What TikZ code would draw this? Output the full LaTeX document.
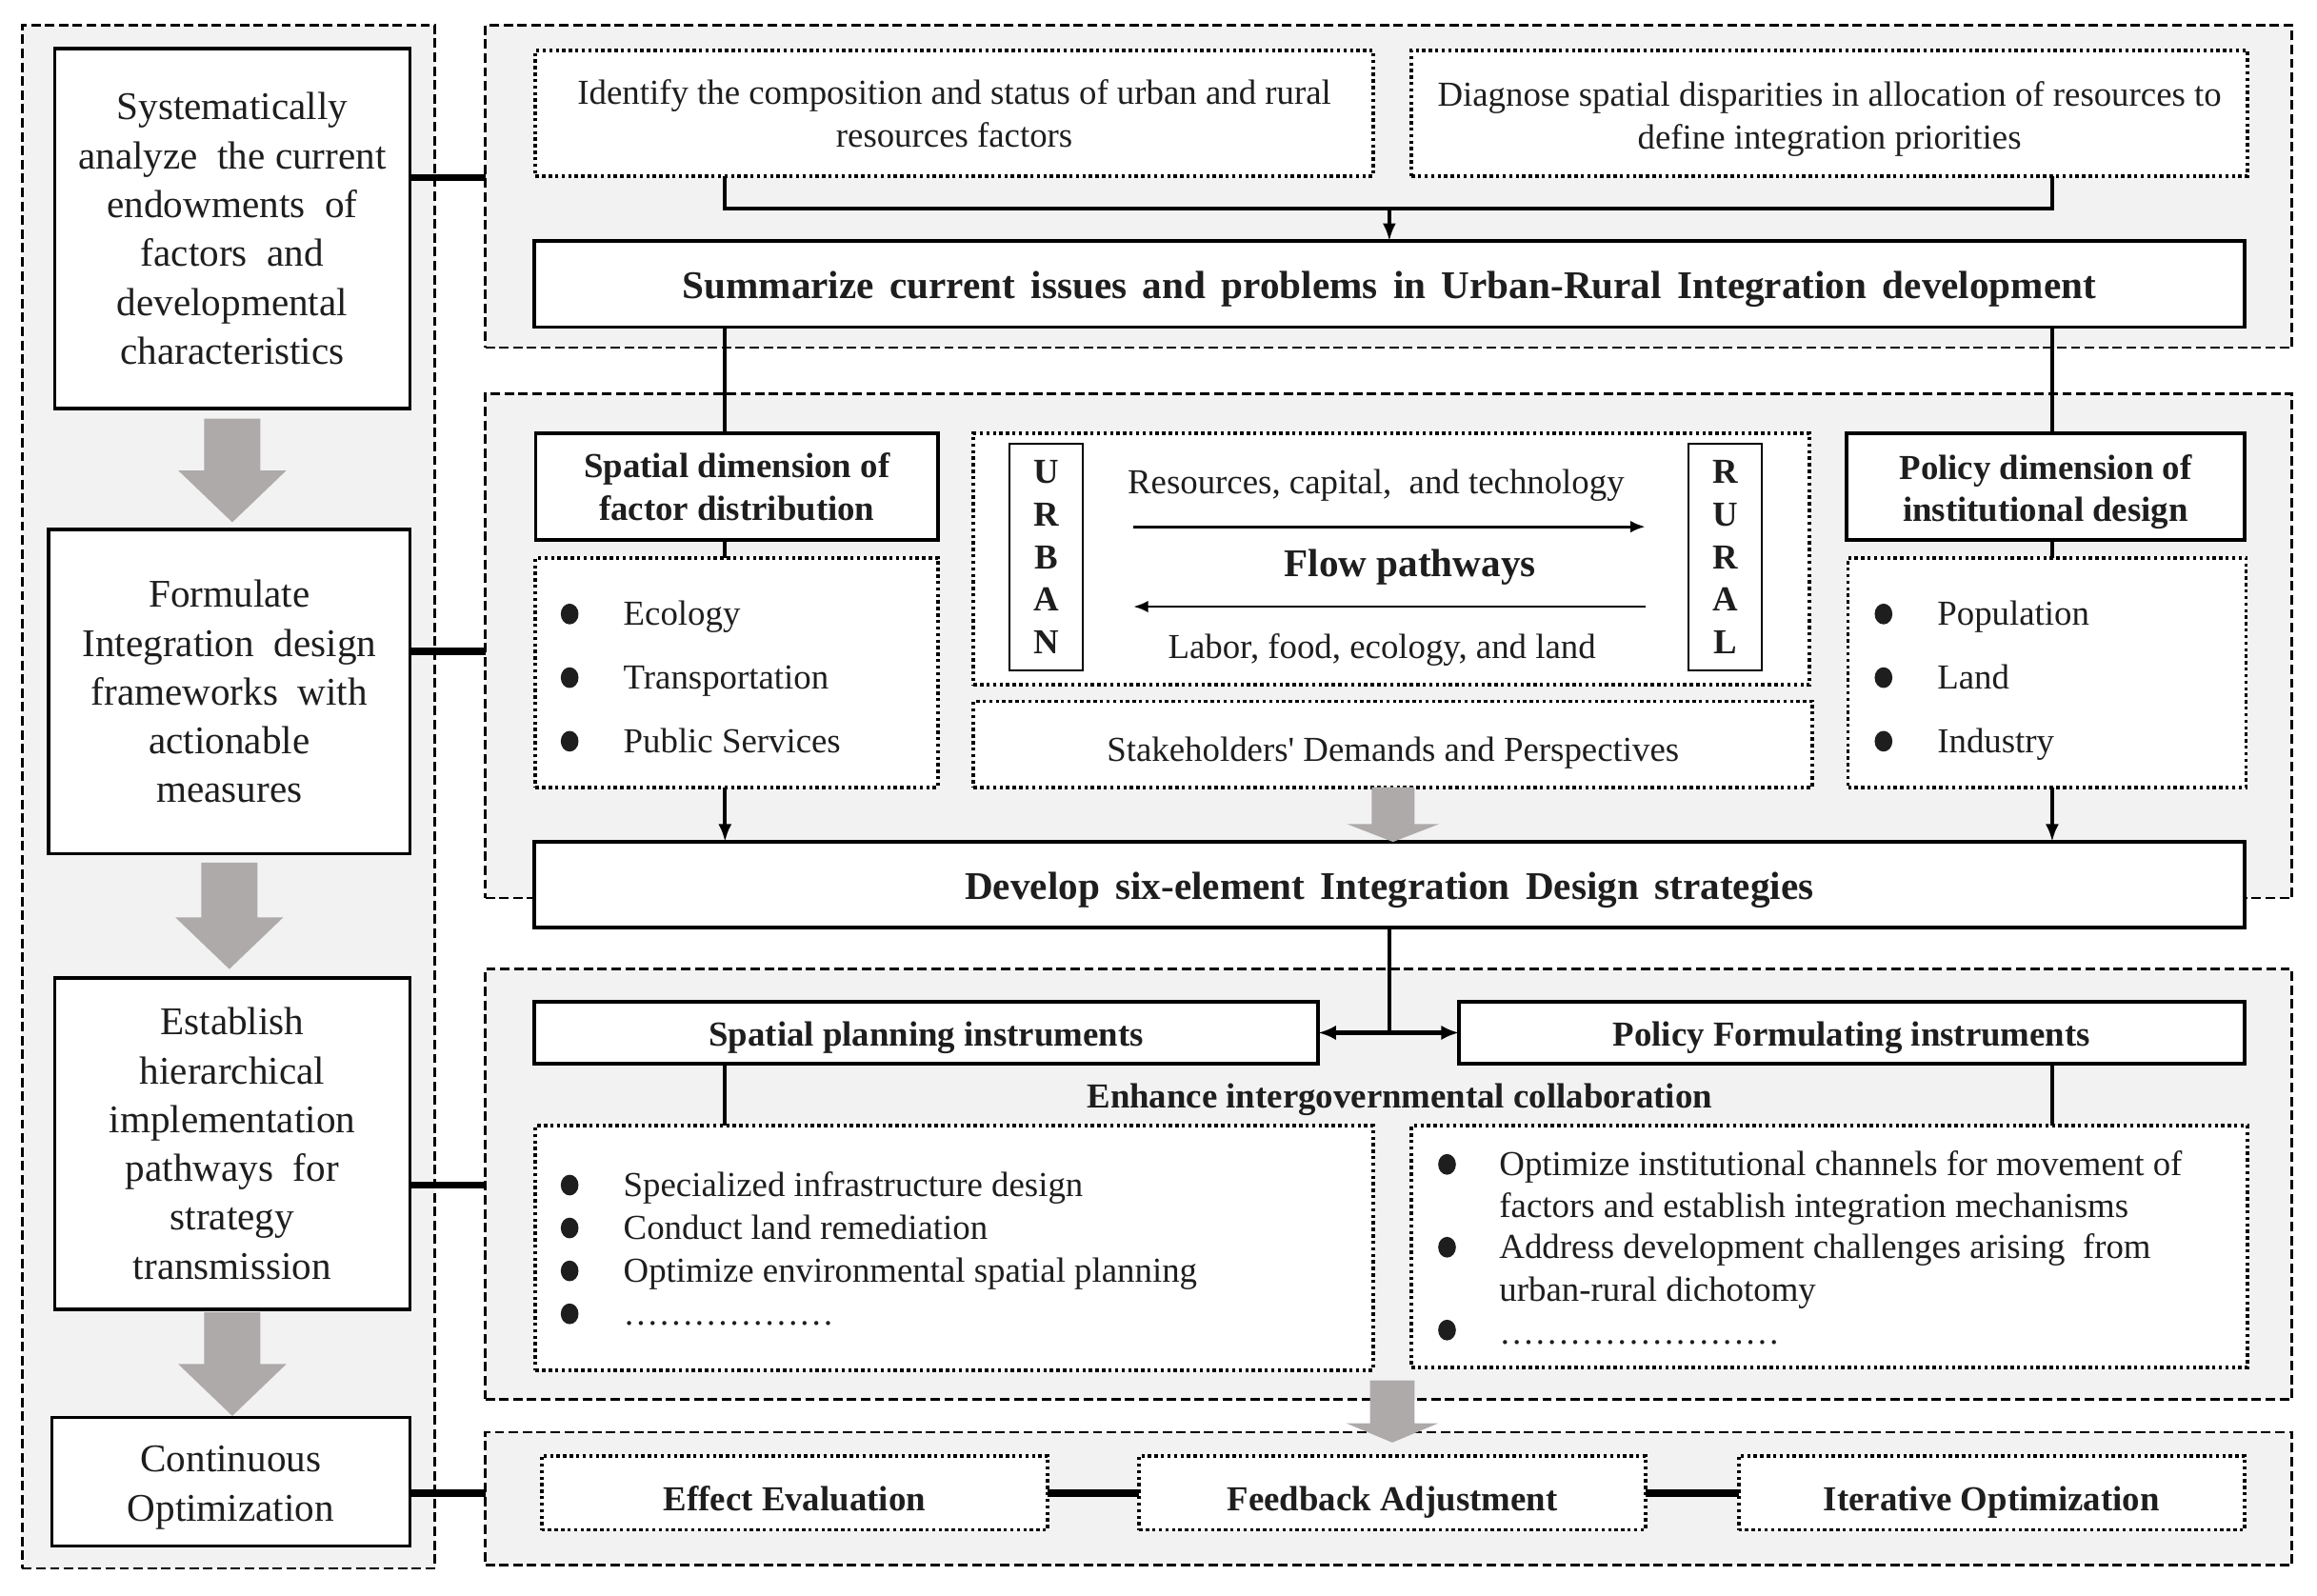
\documentclass[tikz,border=0pt]{standalone}
\usepackage{fontspec}
\setmainfont{Liberation Serif}
\usetikzlibrary{arrows.meta,calc}
\definecolor{panelgray}{HTML}{F2F2F2}
\definecolor{arrgray}{HTML}{AEAAAA}
\definecolor{txt}{HTML}{1E1E1E}
\newcommand{\bodyf}{\fontsize{11.85}{14.4}\selectfont}
\newcommand{\bigf}{\fontsize{13.25}{16.5}\selectfont}
\newcommand{\straightq}{{\addfontfeatures{Ligatures=TeXOff}'}}
\newcommand{\elp}{…}
\newcommand{\garrow}[5]{\fill[arrgray] let \p1=(#1), \p2=(#2) in (\x1-#3,\y1) -- (\x1+#3,\y1) -- (\x1+#3,\y2+#5) -- (\x1+#4,\y2+#5) -- (\x1,\y2) -- (\x1-#4,\y2+#5) -- (\x1-#3,\y2+#5) -- cycle;}
\begin{document}
\begin{tikzpicture}[x=0.5pt,y=-0.5pt,
  panel/.style={draw=black, fill=panelgray, line width=0.85pt, dash pattern=on 3.2pt off 1.5pt, inner sep=0pt, outer sep=0pt},
  sbox/.style={draw=black, fill=white, line width=1.2pt, inner sep=0pt, outer sep=0pt, align=center, text=txt, font=\bodyf},
  lbox/.style={sbox, font=\bigf},
  dbox/.style={draw=black, fill=white, line width=1.25pt, dash pattern=on 1.1pt off 1.1pt, inner sep=0pt, outer sep=0pt, align=center, text=txt, font=\bodyf},
  letterbox/.style={draw=black, fill=white, line width=0.6pt, inner sep=0pt, outer sep=0pt, align=center, text=txt, font=\bodyf\bfseries},
  tk/.style={text depth=0pt, text height=#1},
  txtc/.style={align=center, inner sep=0pt, text=txt, font=\bodyf},
  itm/.style={anchor=base west, yshift=-3.9pt, inner sep=0pt, text=txt, font=\bodyf},
  lbl/.style={anchor=base, yshift=-3.9pt, inner sep=0pt, text=txt, font=\bodyf},
  conn/.style={line width=1.4pt, draw=black},
  arr/.style={-{Latex[length=6pt,width=4.5pt]}},
  thickl/.style={line width=2.5pt, draw=black},
  flowarr/.style={line width=0.9pt, -{Latex[length=5pt,width=4pt]}},
  bul/.style={fill=txt}
]
\useasboundingbox (0,0) rectangle (1566,1078.5);

% panels
\node[panel, minimum width=139.5pt, minimum height=521.5pt] (P0) at (154.5,538.5) {};
\node[panel, minimum width=610.5pt, minimum height=109pt] (P1) at (938.5,126) {};
\node[panel, minimum width=610.5pt, minimum height=170.5pt] (P2) at (938.5,436.5) {};
\node[panel, minimum width=610.5pt, minimum height=145.5pt] (P3) at (938.5,800.5) {};
\node[panel, minimum width=610.5pt, minimum height=45pt] (P4) at (938.5,1013) {};

% left column
\node[lbox, minimum width=120pt, minimum height=121.5pt] (L1) at (157,154.5)
  {Systematically\\analyze\ \ the current\\endowments\ \ of\\factors\ \ and\\developmental\\characteristics};
\node[lbox, minimum width=122pt, minimum height=109.5pt] (L2) at (155,467.5)
  {Formulate\\Integration\ \ design\\frameworks\ \ with\\actionable\\measures};
\node[lbox, minimum width=120pt, minimum height=112pt] (L3) at (157,773)
  {Establish\\hierarchical\\implementation\\pathways\ \ for\\strategy\\transmission};
\node[lbox, minimum width=121pt, minimum height=43.5pt] (L4) at (156,1001.5) {};
\node[txtc, font=\bigf] (L4t) at ($(L4.center)+(0,4)$) {Continuous\\Optimization};

\garrow{$(L1.south)+(0,7)$}{$(L2.north)+(0,-5)$}{9.5pt}{18.25pt}{17.5pt}
\garrow{$(L2.south)+(0,6)$}{$(L3.north)+(0,-6)$}{9.5pt}{18.25pt}{17.5pt}
\garrow{$(L3.south)+(0,2)$}{$(L4.north)+(0,-1)$}{9.5pt}{18.25pt}{17.5pt}

% panel 1
\node[dbox, minimum width=283pt, minimum height=42.5pt] (A) at (645,76.5)
  {Identify the composition and status of urban and rural\\resources factors};
\node[dbox, minimum width=282.5pt, minimum height=42.5pt] (B) at (1236.5,76.5) {};
\node[txtc] (Bt) at ($(B.center)+(0,4)$)
  {Diagnose spatial disparities in allocation of resources to\\define integration priorities};
\node[lbox, minimum width=578pt, minimum height=29pt, tk=9.8pt] (Sum) at (939,192)
  {\bfseries\spaceskip=0.4em plus 0.1em Summarize current issues and problems in Urban-Rural Integration development};

% panel 2
\node[sbox, minimum width=136pt, minimum height=36pt] (SpD) at (498,329)
  {\bfseries Spatial dimension of\\\bfseries factor distribution};
\node[dbox, minimum width=136pt, minimum height=77.5pt] (SpL) at (498,454.5) {};
\node[dbox, minimum width=282.5pt, minimum height=85pt] (Flow) at (940.5,378) {};
\node[letterbox, minimum width=25pt, minimum height=76.5pt] (URB) at (707,376.5)
  {U\\R\\B\\A\\N};
\node[letterbox, minimum width=25pt, minimum height=76.5pt] (RUR) at (1166,376.5)
  {R\\U\\R\\A\\L};
\node[dbox, minimum width=283.5pt, minimum height=29pt, tk=11.4pt] (Stake) at (941.5,503)
  {Stakeholders\straightq{} Demands and Perspectives};
\node[sbox, minimum width=134.5pt, minimum height=36pt] (PoD) at (1382.5,329) {};
\node[txtc, font=\bodyf\bfseries] (PoDt) at ($(PoD.center)+(0,3.5)$)
  {Policy dimension of\\institutional design};
\node[dbox, minimum width=134.5pt, minimum height=77.5pt] (PoL) at (1383.5,454.5) {};

\node[lbl] (res) at (930,326) {Resources, capital,\ \ and technology};
\node[lbl, font=\bigf\bfseries, yshift=-0.5pt] (fp) at (953,381) {Flow pathways};
\node[lbl] (lab) at (934,437) {Labor, food, ecology, and land};
\coordinate (f1) at (766,356);
\coordinate (f2) at (1112,356);
\coordinate (f3) at (1112,410);
\coordinate (f4) at (766,410);
\draw[flowarr] (f1) -- (f2);
\draw[flowarr] (f3) -- (f4);

\fill[bul] (385,415) ellipse [x radius=3pt, y radius=3.5pt];
\fill[bul] (385,458) ellipse [x radius=3pt, y radius=3.5pt];
\fill[bul] (385,501) ellipse [x radius=3pt, y radius=3.5pt];
\node[itm] (s1) at (421,415) {Ecology};
\node[itm] (s2) at (421,458) {Transportation};
\node[itm] (s3) at (421,501) {Public Services};

\fill[bul] (1273,415) ellipse [x radius=3pt, y radius=3.5pt];
\fill[bul] (1273,458) ellipse [x radius=3pt, y radius=3.5pt];
\fill[bul] (1273,501) ellipse [x radius=3pt, y radius=3.5pt];
\node[itm] (p1) at (1309,415) {Population};
\node[itm] (p2) at (1309,458) {Land};
\node[itm] (p3) at (1309,501) {Industry};

\node[lbox, minimum width=578pt, minimum height=29pt, tk=9.8pt] (Dev) at (939,598)
  {\bfseries\spaceskip=0.4em plus 0.1em Develop six-element Integration Design strategies};

% panel 3
\node[sbox, minimum width=265pt, minimum height=21pt, tk=8.8pt] (SPI) at (626,698)
  {\bfseries Spatial planning instruments};
\node[sbox, minimum width=265.5pt, minimum height=21pt, tk=8.8pt] (PFI) at (1251.5,698)
  {\bfseries Policy Formulating instruments};
\node[lbl, font=\bodyf\bfseries] (enh) at (946,741) {Enhance intergovernmental collaboration};
\node[dbox, minimum width=283pt, minimum height=82.5pt] (SPL) at (645,843.5) {};
\node[dbox, minimum width=282.5pt, minimum height=81.5pt] (PFL) at (1236.5,842.5) {};

\fill[bul] (385,801) ellipse [x radius=3pt, y radius=3.5pt];
\fill[bul] (385,830) ellipse [x radius=3pt, y radius=3.5pt];
\fill[bul] (385,859) ellipse [x radius=3pt, y radius=3.5pt];
\fill[bul] (385,888) ellipse [x radius=3pt, y radius=3.5pt];
\node[itm] (q1) at (421,801) {Specialized infrastructure design};
\node[itm] (q2) at (421,830) {Conduct land remediation};
\node[itm] (q3) at (421,859) {Optimize environmental spatial planning};
\node[itm] (q4) at (421,888) {\elp\elp\elp\elp\elp\elp};

\fill[bul] (978,787) ellipse [x radius=3pt, y radius=3.5pt];
\fill[bul] (978,843) ellipse [x radius=3pt, y radius=3.5pt];
\fill[bul] (978,899) ellipse [x radius=3pt, y radius=3.5pt];
\node[itm] (r1) at (1013,787) {Optimize institutional channels for movement of};
\node[itm] (r2) at (1013,815) {factors and establish integration mechanisms};
\node[itm] (r3) at (1013,843) {Address development challenges arising\ \ from};
\node[itm] (r4) at (1013,872) {urban-rural dichotomy};
\node[itm] (r5) at (1013,901) {\elp\elp\elp\elp\elp\elp\elp\elp};

% panel 4
\node[dbox, minimum width=171pt, minimum height=25pt, tk=11.8pt] (EE) at (537,1009) {\bfseries Effect Evaluation};
\node[dbox, minimum width=171pt, minimum height=25pt, tk=11.8pt] (FA) at (941,1009) {\bfseries Feedback Adjustment};
\node[dbox, minimum width=171pt, minimum height=25pt, tk=11.8pt] (IO) at (1346,1009) {\bfseries Iterative Optimization};
\draw[thickl] (EE.east) -- (FA.west);
\draw[thickl] (FA.east) -- (IO.west);

% left-to-right links
\coordinate (k1) at (300,120);
\coordinate (k2) at (300,440);
\coordinate (k3) at (300,801);
\coordinate (k4) at (300,1009);
\draw[thickl] (L1.east |- k1) -- (P1.west |- k1);
\draw[thickl] (L2.east |- k2) -- (P2.west |- k2);
\draw[thickl] (L3.east |- k3) -- (P3.west |- k3);
\draw[thickl] (L4.east |- k4) -- (P4.west |- k4);

% connectors
\coordinate (xL) at (490,0);
\coordinate (xR) at (1387,0);
\coordinate (hA) at (0,141);
\draw[conn] (A.south -| xL) -- (xL |- hA) -- (xR |- hA) -- (B.south -| xR);
\draw[conn,arr] (Sum.north |- hA) -- (Sum.north);
\draw[conn] (Sum.south -| xL) -- (SpD.north -| xL);
\draw[conn] (Sum.south -| xR) -- (PoD.north -| xR);
\draw[conn] (SpD.south -| xL) -- (SpL.north -| xL);
\draw[conn] (PoD.south -| xR) -- (PoL.north -| xR);
\draw[conn,arr] (SpL.south -| xL) -- (Dev.north -| xL);
\draw[conn,arr] (PoL.south -| xR) -- (Dev.north -| xR);
\draw[conn] (Dev.south) -- (Dev.south |- SPI.east);
\draw[conn,{Latex[length=6pt,width=5pt]}-{Latex[length=6pt,width=5pt]}] (SPI.east) -- (PFI.west);
\draw[conn] (SPI.south -| xL) -- (SPL.north -| xL);
\draw[conn] (PFI.south -| xR) -- (PFL.north -| xR);

% gray block arrows
\garrow{Stake.south}{Stake.south |- Dev.north}{7.25pt}{15.5pt}{6pt}
\garrow{$(P3.south -| FA.north)+(0,-13)$}{$(FA.north)+(0,-9)$}{7.5pt}{15.5pt}{6.5pt}
\end{tikzpicture}
\end{document}
